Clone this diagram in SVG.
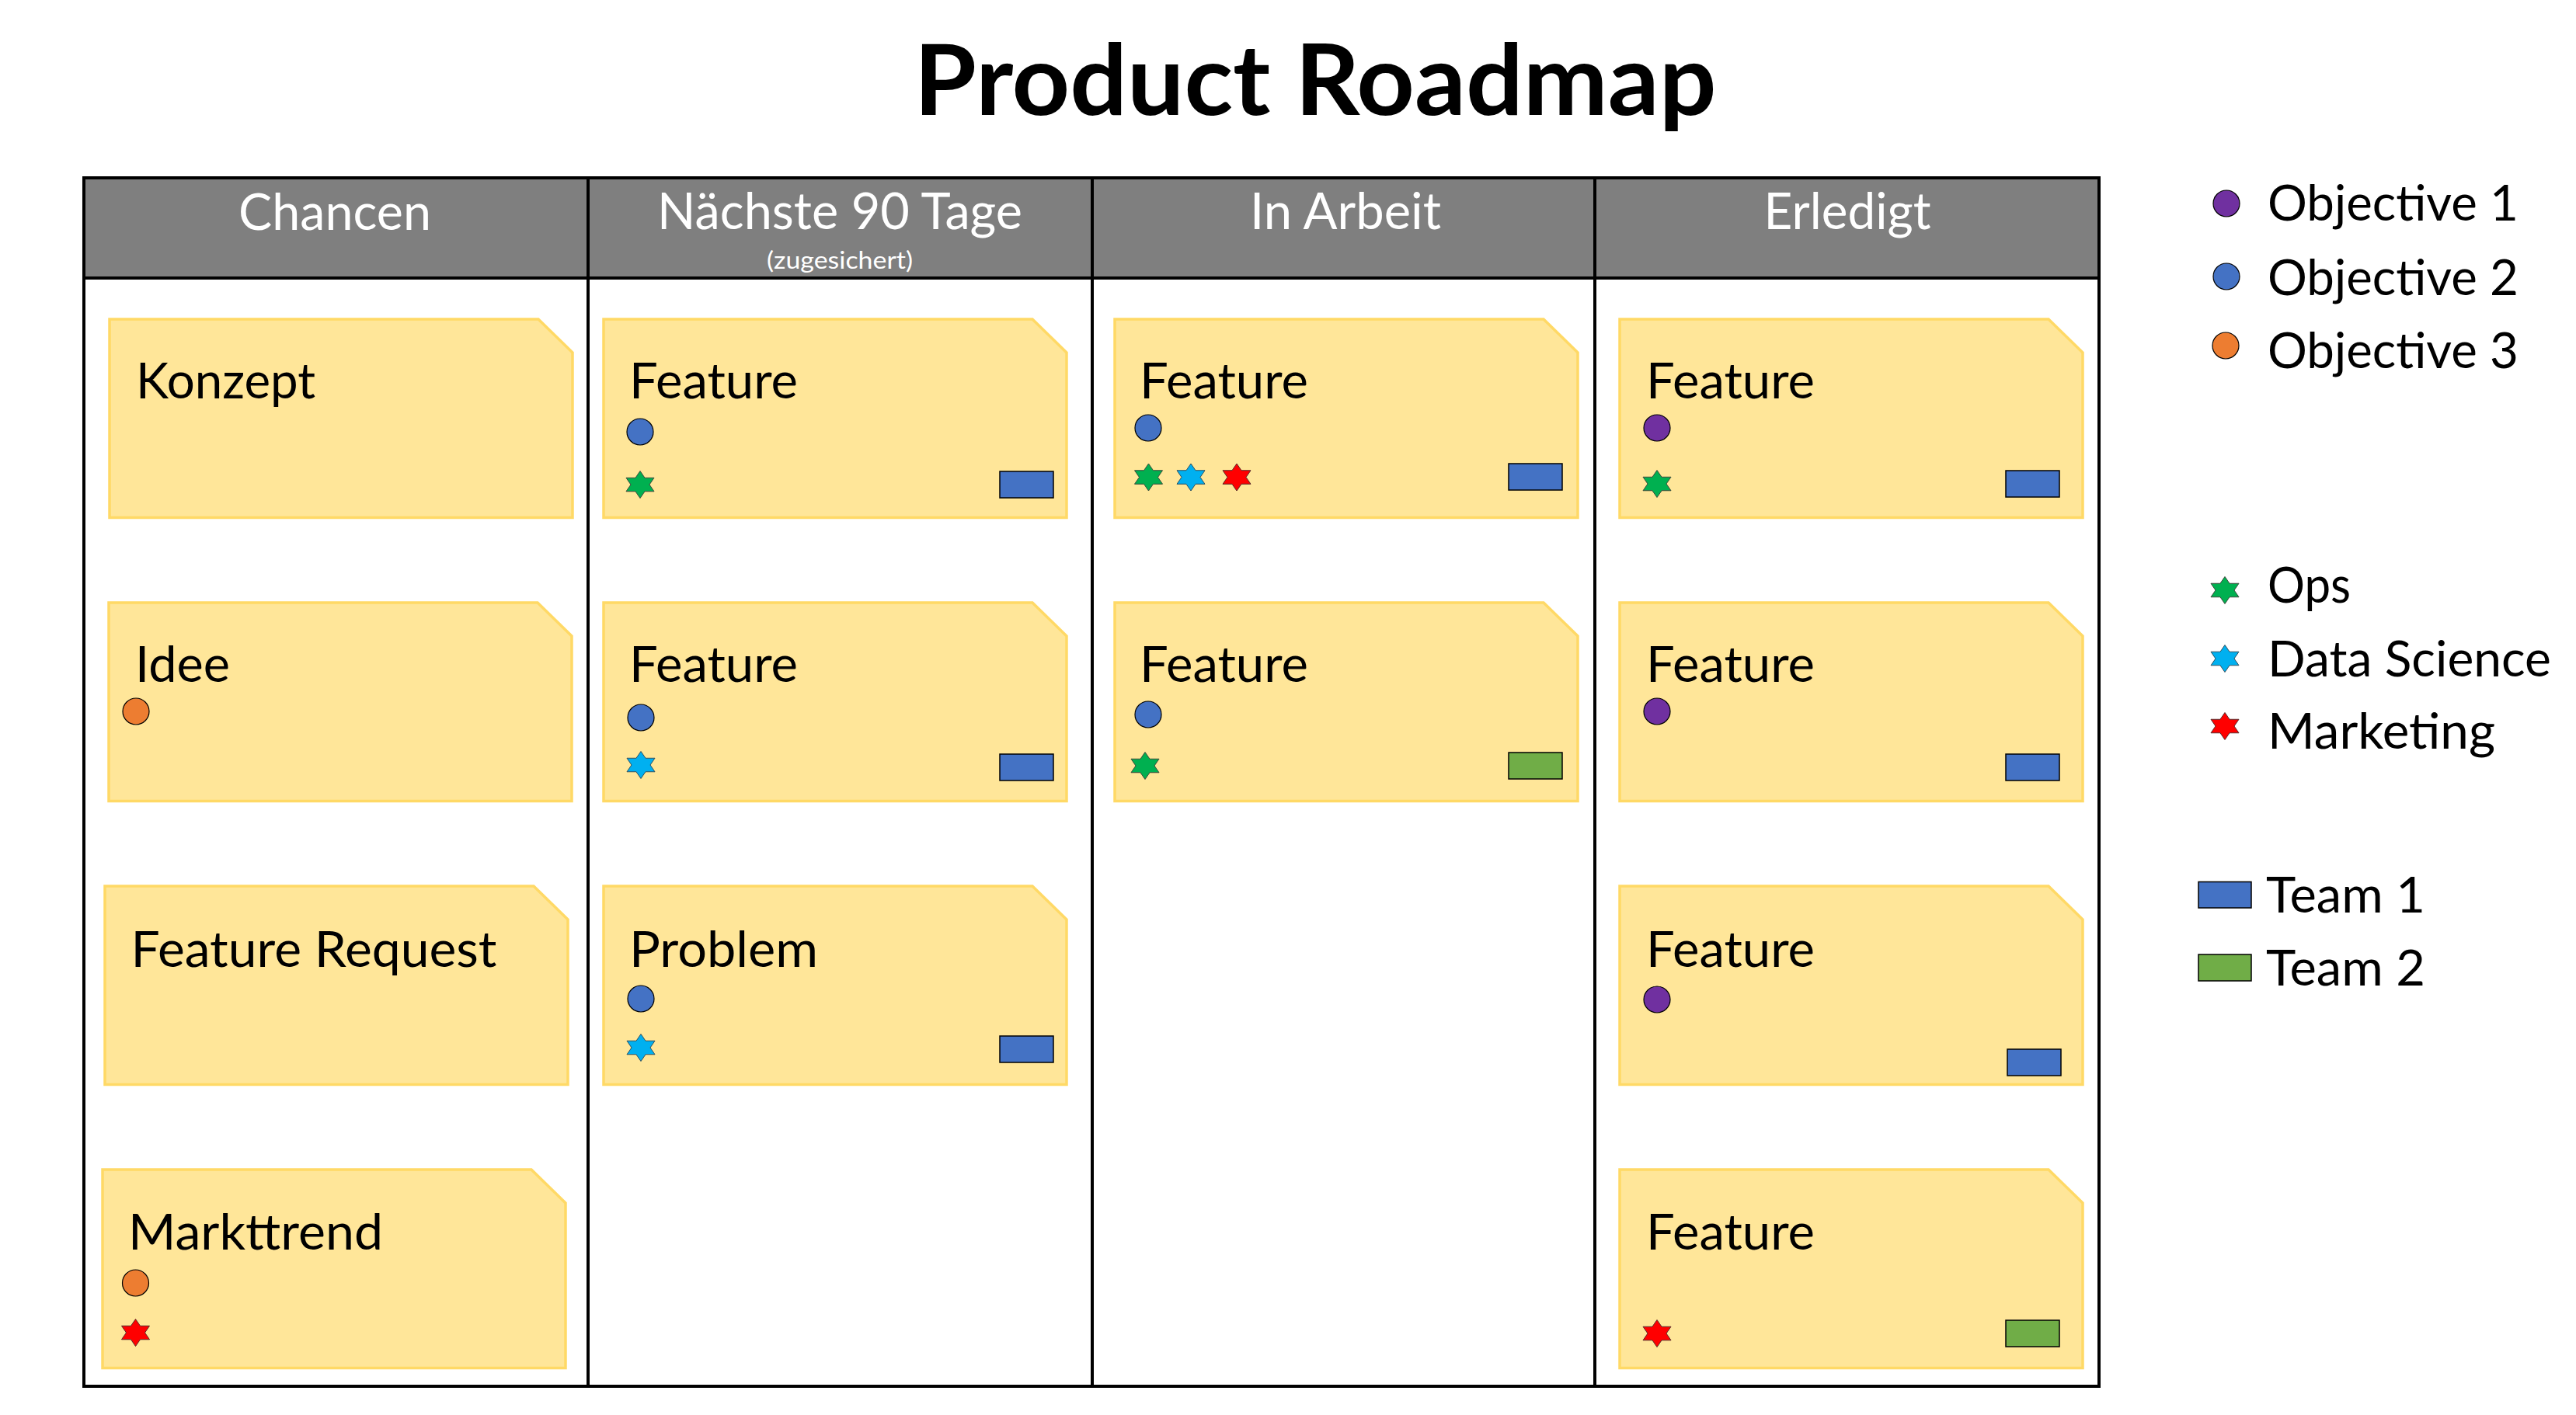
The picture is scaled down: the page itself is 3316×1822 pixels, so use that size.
<svg xmlns="http://www.w3.org/2000/svg" xmlns:xlink="http://www.w3.org/1999/xlink" width="3316" height="1822" viewBox="0 0 3316 1822">
<style>
  text { font-family: Lato, "Open Sans", "Liberation Sans", sans-serif; }
  .title { font-size: 126px; font-weight: 700; fill: #000; text-anchor: middle; }
  .hd { font-size: 66px; fill: #fff; text-anchor: middle; }
  .sub { font-size: 30px; fill: #fff; text-anchor: middle; }
  .ct { font-size: 63px; fill: #000; }
  .lg { font-size: 63px; fill: #000; }
  .card { fill: #FFE699; stroke: #FFD966; stroke-width: 3.5; }
  .grid { fill: none; stroke: #000; stroke-width: 4; }
  .o1 { fill: #7030A0; stroke: #000; stroke-width: 1.2; }
  .o2 { fill: #4472C4; stroke: #000; stroke-width: 1.2; }
  .o3 { fill: #ED7D31; stroke: #000; stroke-width: 1.2; }
  .sg { fill: #00B050; stroke: #3b4a3b; stroke-width: 1; }
  .sc { fill: #00B0F0; stroke: #2f4f5f; stroke-width: 1; }
  .sr { fill: #FF0000; stroke: #5a2a2a; stroke-width: 1; }
  .t1 { fill: #4472C4; stroke: #000; stroke-width: 1.5; }
  .t2 { fill: #70AD47; stroke: #000; stroke-width: 1.5; }
</style>
<defs>
  <path id="card" d="M0,0 H552 L596,43 V255.5 H0 Z"/>
  <path id="star" d="M0,-17.5 L6,-8.75 L18,-8.75 L12,0 L18,8.75 L6,8.75 L0,17.5 L-6,8.75 L-18,8.75 L-12,0 L-18,-8.75 L-6,-8.75 Z"/>
</defs>
<rect width="3316" height="1822" fill="#fff"/>

<g id="title">
  <text class="title" x="1693" y="148" textLength="1033" lengthAdjust="spacingAndGlyphs">Product Roadmap</text>
</g>

<g id="board">
  <rect x="108" y="229" width="2594" height="129" fill="#7F7F7F"/>
  <rect class="grid" x="108" y="229" width="2594" height="1556"/>
  <line class="grid" x1="108" y1="358" x2="2702" y2="358"/>
  <line class="grid" x1="757" y1="229" x2="757" y2="1785"/>
  <line class="grid" x1="1406" y1="229" x2="1406" y2="1785"/>
  <line class="grid" x1="2053" y1="229" x2="2053" y2="1785"/>
</g>

<g id="header-chancen"><text class="hd" x="431" y="296" textLength="248" lengthAdjust="spacingAndGlyphs">Chancen</text></g>
<g id="header-naechste">
  <text class="hd" x="1081" y="295" textLength="470" lengthAdjust="spacingAndGlyphs">Nächste 90 Tage</text>
  <text class="sub" x="1081" y="346" textLength="188" lengthAdjust="spacingAndGlyphs">(zugesichert)</text>
</g>
<g id="header-inarbeit"><text class="hd" x="1732" y="295" textLength="246" lengthAdjust="spacingAndGlyphs">In Arbeit</text></g>
<g id="header-erledigt"><text class="hd" x="2378" y="295" textLength="215" lengthAdjust="spacingAndGlyphs">Erledigt</text></g>

<!-- Column 1: Chancen -->
<g id="card-konzept">
  <use href="#card" class="card" x="141" y="411"/>
  <text class="ct" x="175" y="513" textLength="231" lengthAdjust="spacingAndGlyphs">Konzept</text>
</g>
<g id="card-idee">
  <use href="#card" class="card" x="140" y="776"/>
  <text class="ct" x="174" y="878" textLength="122" lengthAdjust="spacingAndGlyphs">Idee</text>
  <circle class="o3" cx="175" cy="916" r="17"/>
</g>
<g id="card-feature-request">
  <use href="#card" class="card" x="135" y="1141"/>
  <text class="ct" x="168.5" y="1245" textLength="471" lengthAdjust="spacingAndGlyphs">Feature Request</text>
</g>
<g id="card-markttrend">
  <use href="#card" class="card" x="132" y="1506"/>
  <text class="ct" x="165" y="1609" textLength="328" lengthAdjust="spacingAndGlyphs">Markttrend</text>
  <circle class="o3" cx="174.5" cy="1652" r="17"/>
  <use href="#star" class="sr" x="174.5" y="1716"/>
</g>

<!-- Column 2: Nächste 90 Tage -->
<g id="card-n90-1">
  <use href="#card" class="card" x="777" y="411"/>
  <text class="ct" x="810" y="513" textLength="217" lengthAdjust="spacingAndGlyphs">Feature</text>
  <circle class="o2" cx="824" cy="556" r="17"/>
  <use href="#star" class="sg" x="824" y="624"/>
  <rect class="t1" x="1287" y="607" width="69" height="34"/>
</g>
<g id="card-n90-2">
  <use href="#card" class="card" x="777" y="776"/>
  <text class="ct" x="810" y="878" textLength="217" lengthAdjust="spacingAndGlyphs">Feature</text>
  <circle class="o2" cx="825" cy="924" r="17"/>
  <use href="#star" class="sc" x="825" y="985"/>
  <rect class="t1" x="1287" y="971" width="69" height="34"/>
</g>
<g id="card-n90-3">
  <use href="#card" class="card" x="777" y="1141"/>
  <text class="ct" x="810" y="1245" textLength="243" lengthAdjust="spacingAndGlyphs">Problem</text>
  <circle class="o2" cx="825" cy="1286" r="17"/>
  <use href="#star" class="sc" x="825" y="1349"/>
  <rect class="t1" x="1287" y="1334" width="69" height="34"/>
</g>

<!-- Column 3: In Arbeit -->
<g id="card-arbeit-1">
  <use href="#card" class="card" x="1435" y="411"/>
  <text class="ct" x="1467" y="513" textLength="217" lengthAdjust="spacingAndGlyphs">Feature</text>
  <circle class="o2" cx="1478" cy="551" r="17"/>
  <use href="#star" class="sg" x="1478.5" y="614.5"/>
  <use href="#star" class="sc" x="1533" y="614.5"/>
  <use href="#star" class="sr" x="1592" y="614.5"/>
  <rect class="t1" x="1942" y="597" width="69" height="34"/>
</g>
<g id="card-arbeit-2">
  <use href="#card" class="card" x="1435" y="776"/>
  <text class="ct" x="1467" y="878" textLength="217" lengthAdjust="spacingAndGlyphs">Feature</text>
  <circle class="o2" cx="1478" cy="920" r="17"/>
  <use href="#star" class="sg" x="1474" y="986"/>
  <rect class="t2" x="1942" y="969" width="69" height="34"/>
</g>

<!-- Column 4: Erledigt -->
<g id="card-erledigt-1">
  <use href="#card" class="card" x="2085" y="411"/>
  <text class="ct" x="2119" y="513" textLength="217" lengthAdjust="spacingAndGlyphs">Feature</text>
  <circle class="o1" cx="2133" cy="551" r="17"/>
  <use href="#star" class="sg" x="2133" y="623"/>
  <rect class="t1" x="2582" y="606" width="69" height="34"/>
</g>
<g id="card-erledigt-2">
  <use href="#card" class="card" x="2085" y="776"/>
  <text class="ct" x="2119" y="878" textLength="217" lengthAdjust="spacingAndGlyphs">Feature</text>
  <circle class="o1" cx="2133" cy="916" r="17"/>
  <rect class="t1" x="2582" y="971" width="69" height="34"/>
</g>
<g id="card-erledigt-3">
  <use href="#card" class="card" x="2085" y="1141"/>
  <text class="ct" x="2119" y="1245" textLength="217" lengthAdjust="spacingAndGlyphs">Feature</text>
  <circle class="o1" cx="2133" cy="1287" r="17"/>
  <rect class="t1" x="2584" y="1351" width="69" height="34"/>
</g>
<g id="card-erledigt-4">
  <use href="#card" class="card" x="2085" y="1506"/>
  <text class="ct" x="2119" y="1609" textLength="217" lengthAdjust="spacingAndGlyphs">Feature</text>
  <use href="#star" class="sr" x="2133" y="1717"/>
  <rect class="t2" x="2582" y="1700" width="69" height="34"/>
</g>

<!-- Legend -->
<g id="legend-objective-1">
  <circle class="o1" cx="2866" cy="262" r="17"/>
  <text class="lg" x="2919" y="284" textLength="323" lengthAdjust="spacingAndGlyphs">Objective 1</text>
</g>
<g id="legend-objective-2">
  <circle class="o2" cx="2866" cy="356" r="17"/>
  <text class="lg" x="2919" y="380" textLength="323" lengthAdjust="spacingAndGlyphs">Objective 2</text>
</g>
<g id="legend-objective-3">
  <circle class="o3" cx="2865" cy="445" r="17"/>
  <text class="lg" x="2919" y="474" textLength="323" lengthAdjust="spacingAndGlyphs">Objective 3</text>
</g>
<g id="legend-ops">
  <use href="#star" class="sg" x="2864" y="760"/>
  <text class="lg" x="2919" y="776" textLength="107" lengthAdjust="spacingAndGlyphs">Ops</text>
</g>
<g id="legend-data-science">
  <use href="#star" class="sc" x="2864" y="848"/>
  <text class="lg" x="2919" y="871" textLength="365" lengthAdjust="spacingAndGlyphs">Data Science</text>
</g>
<g id="legend-marketing">
  <use href="#star" class="sr" x="2864" y="935"/>
  <text class="lg" x="2919" y="964" textLength="293" lengthAdjust="spacingAndGlyphs">Marketing</text>
</g>
<g id="legend-team-1">
  <rect class="t1" x="2830" y="1135.5" width="68" height="33.5"/>
  <text class="lg" x="2917" y="1175" textLength="205" lengthAdjust="spacingAndGlyphs">Team 1</text>
</g>
<g id="legend-team-2">
  <rect class="t2" x="2830" y="1229" width="68" height="34"/>
  <text class="lg" x="2917" y="1269" textLength="205" lengthAdjust="spacingAndGlyphs">Team 2</text>
</g>

<g id="connectors"/>
</svg>
